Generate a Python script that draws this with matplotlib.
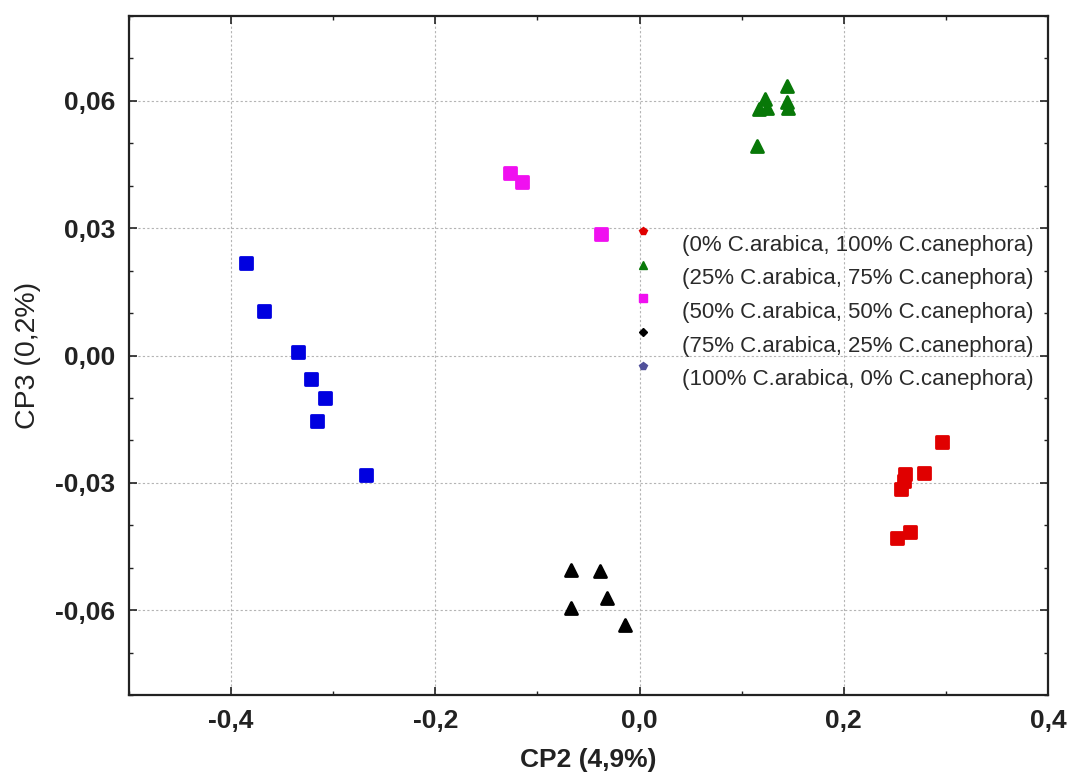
import matplotlib
matplotlib.use('Agg')
import matplotlib.pyplot as plt
from matplotlib.lines import Line2D
from matplotlib.markers import MarkerStyle
from matplotlib.ticker import FixedLocator, MultipleLocator
from matplotlib.transforms import Affine2D

plt.rcParams['font.family'] = ['Liberation Sans', 'DejaVu Sans']

# PCA scores (CP2, CP3) per blend
arab0_x = [0.2966, 0.2786, 0.2600, 0.2590, 0.2560, 0.2650, 0.2520]
arab0_y = [-0.0205, -0.0277, -0.0279, -0.0295, -0.0314, -0.0416, -0.0430]

arab25_x = [0.1148, 0.1170, 0.1226, 0.1250, 0.1440, 0.1455, 0.1445]
arab25_y = [0.0494, 0.0580, 0.0604, 0.0584, 0.0635, 0.0584, 0.0598]

arab50_x = [-0.1266, -0.1152, -0.0379]
arab50_y = [0.0430, 0.0410, 0.0286]

arab75_x = [-0.0672, -0.0389, -0.0320, -0.0672, -0.0144]
arab75_y = [-0.0506, -0.0508, -0.0572, -0.0595, -0.0636]

arab100_x = [-0.385, -0.368, -0.335, -0.322, -0.308, -0.316, -0.268]
arab100_y = [0.0218, 0.0105, 0.0008, -0.0056, -0.0101, -0.0154, -0.0281]

labels = ['(0% C.arabica, 100% C.canephora)',
          '(25% C.arabica, 75% C.canephora)',
          '(50% C.arabica, 50% C.canephora)',
          '(75% C.arabica, 25% C.canephora)',
          '(100% C.arabica, 0% C.canephora)']

xticks = [-0.4, -0.2, 0.0, 0.2, 0.4]
xtick_labels = ['-0,4', '-0,2', '0,0', '0,2', '0,4']
yticks = [-0.06, -0.03, 0.0, 0.03, 0.06]
ytick_labels = ['-0,06', '-0,03', '0,00', '0,03', '0,06']

fig = plt.figure(figsize=(10.7, 7.78), dpi=100)
ax = fig.add_axes([0.1206, 0.1067, 0.8588, 0.8727])

sq = MarkerStyle('s', joinstyle='round')
tri = MarkerStyle('^', joinstyle='round')

series = [
    (arab0_x, arab0_y, sq, '#e00000', 8),
    (arab25_x, arab25_y, tri, '#087808', 8.5),
    (arab50_x, arab50_y, sq, '#f010f0', 8),
    (arab75_x, arab75_y, tri, '#000000', 8),
    (arab100_x, arab100_y, sq, '#0000e0', 8),
]
for xs, ys, mk, col, ms in series:
    ax.plot(xs, ys, ls='none', marker=mk, ms=ms, mfc=col, mec=col, mew=2, zorder=3)

ax.set_xlim(-0.5, 0.4)
ax.set_ylim(-0.08, 0.08)

ax.xaxis.set_major_locator(FixedLocator(xticks))
ax.set_xticklabels(xtick_labels)
ax.xaxis.set_minor_locator(MultipleLocator(0.1))
ax.yaxis.set_major_locator(FixedLocator(yticks))
ax.set_yticklabels(ytick_labels)
ax.yaxis.set_minor_locator(MultipleLocator(0.01))

ax.tick_params(which='both', direction='in', top=True, right=True, colors='#222222')
ax.tick_params(which='major', length=6, width=1.2, labelsize=19, pad=10)
ax.tick_params(which='minor', length=3, width=1.0)
for lab in ax.get_xticklabels() + ax.get_yticklabels():
    lab.set_fontweight('bold')

for s in ax.spines.values():
    s.set_linewidth(1.6)
    s.set_color('#222222')

ax.grid(True, which='major', color='#b4b4b4', linestyle=(0, (2, 2)), linewidth=0.8, zorder=0)

ax.set_xlabel('CP2 (4,9%)', fontsize=19, fontweight='bold', color='#222222', labelpad=11)
ax.set_ylabel('CP3 (0,2%)', fontsize=20.5, color='#222222', labelpad=10)

# legend markers differ from the plotted ones
handles = [
    Line2D([], [], ls='none', marker='p', ms=6, color='#e00000'),
    Line2D([], [], ls='none', marker='^', ms=6, color='#087808'),
    Line2D([], [], ls='none', marker='s', ms=6, color='#f010f0'),
    Line2D([], [], ls='none', marker='D', ms=4.5, color='#000000'),
    Line2D([], [], ls='none', marker='p', ms=6, color='#50509a'),
]
leg = ax.legend(handles, labels, loc='upper left', bbox_to_anchor=(0.547, 0.678),
                frameon=False, fontsize=16, handlelength=1.0, handletextpad=1.26,
                labelspacing=0.57, borderpad=0, borderaxespad=0, labelcolor='#2a2a2a')
# markers sit a bit above the middle of their label
for h in leg.legend_handles:
    h.set_transform(h.get_transform() + Affine2D().translate(0, 12))

fig.savefig('out.png', dpi=100, facecolor='white')
